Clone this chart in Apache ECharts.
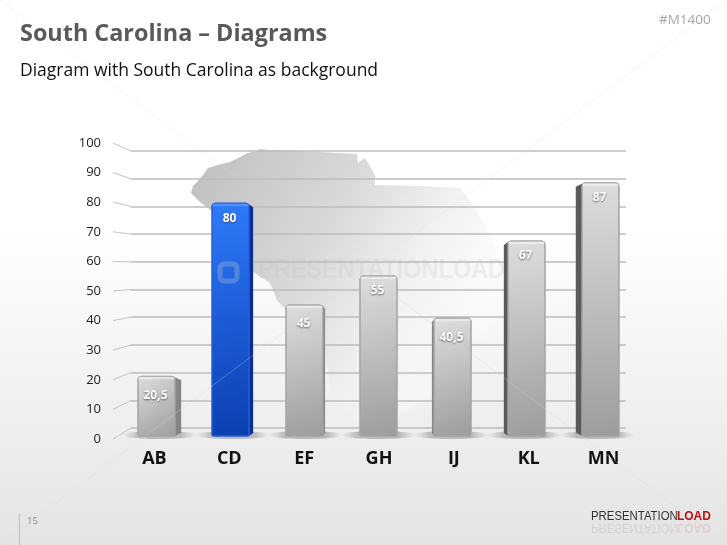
<!DOCTYPE html>
<html><head><meta charset="utf-8">
<style>html,body{margin:0;padding:0;background:#fff}#c{width:727px;height:545px}</style>
<script src="https://cdn.jsdelivr.net/npm/echarts@6/dist/echarts.min.js"></script>
</head><body><div id="c"></div>
<script>
const categories = ['AB','CD','EF','GH','IJ','KL','MN'];
const values = [20.5,80,45,55,40.5,67,87];
const highlighted = ['CD'];
const ticks = [0,10,20,30,40,50,60,70,80,90,100];
const titleText = 'South Carolina \u2013 Diagrams';
const subtitleText = 'Diagram with South Carolina as background';
const codeText = '#M1400';
const pageText = '15';
const mapOutline = [[191,193],[193,186],[197,182],[203,175],[208,168],[218,165],[230,162],[238,158],[248,153],[257,151],[260,149],[270,150],[280,150],[320,152],[357,154],[358,163],[365,158],[370,166],[375,175],[375,185],[420,186],[460,188],[472,203],[485,225],[498,250],[508,280],[508,300],[498,318],[480,340],[472,352],[462,372],[450,387],[432,398],[413,407],[390,420],[367,433],[363,433],[353,417],[338,402],[330,387],[328,368],[323,353],[300,325],[277,300],[270,283],[253,272],[235,250],[222,228],[213,212],[200,202]];

const chart = echarts.init(document.getElementById('c'), null, {renderer:'canvas'});
const FONT = '"Open Sans"';
const VANISH_X = 378;

function renderBar(params, api){
  const i = api.value(0), v = api.value(1);
  const top = api.coord([i, v]), base = api.coord([i, 0]);
  const w = api.size([1,0])[0] * 0.5;
  const cx = top[0], x0 = cx - w/2, x1 = cx + w/2, y0 = top[1], y1 = base[1];
  const blue = highlighted.indexOf(categories[i]) >= 0;
  const side = (VANISH_X - cx) * 0.028;
  const sx = side > 0 ? x1 : x0;
  const shadow = new echarts.graphic.LinearGradient(0,0,1,0,[
    {offset:0,color:'rgba(130,130,130,0)'},{offset:0.22,color:'rgba(110,110,110,0.4)'},{offset:0.78,color:'rgba(110,110,110,0.4)'},{offset:1,color:'rgba(130,130,130,0)'}]);
  const face = blue
    ? new echarts.graphic.LinearGradient(0,0,1,1,[{offset:0,color:'#2f7bfa'},{offset:0.5,color:'#1c5bd8'},{offset:1,color:'#0b3fae'}])
    : new echarts.graphic.LinearGradient(0,0,1,1,[{offset:0,color:'#dedede'},{offset:0.5,color:'#bdbdbd'},{offset:1,color:'#9c9c9c'}]);
  const sideColor = blue ? '#0a2f92' : (Math.abs(side) > 3.5 && side < 0 ? '#5a5a5a' : '#858585');
  const children = [
    {type:'ellipse', shape:{cx:(x0+x1)/2+side/2, cy:y1-1, rx:w/2+19, ry:4}, style:{fill:shadow}},
    {type:'polygon', shape:{points:[[sx,y0+1],[sx+side,y0+4],[sx+side,y1-3],[sx,y1]]}, style:{fill:sideColor}},
    {type:'rect', shape:{x:x0,y:y0,width:w,height:y1-y0,r:[3,3,1,1]}, style:{fill:face, stroke:blue?'#2560d8':'#a3a3a3', lineWidth:1}},
    {type:'rect', shape:{x:x0+0.5,y:y0+0.5,width:w-1,height:2.5,r:1}, style:{fill:blue?'rgba(120,170,255,0.5)':'rgba(255,255,255,0.45)'}},
    {type:'text', style:{text:String(v).replace('.',','), x:(x0+x1)/2-1, y:y0+(v<50?19:15), align:'center', verticalAlign:'middle',
      font:'bold 12px '+FONT, fill:'#fff', textShadowColor:'rgba(60,60,60,0.75)', textShadowBlur:2, textShadowOffsetX:0, textShadowOffsetY:1}}
  ];
  return {type:'group', children};
}

function renderWing(params, api){
  const t = api.value(0);
  const back = api.coord([0, t]);
  const front = chart.convertToPixel({yAxisIndex:1}, t);
  return {type:'line', shape:{x1:back[0], y1:back[1], x2:back[0]-18, y2:front}, style:{stroke:'#c4c4c4', lineWidth:1}};
}

const option = {
  animation:false,
  backgroundColor:new echarts.graphic.LinearGradient(0,0,0,1,[{offset:0,color:'#ffffff'},{offset:0.42,color:'#ffffff'},{offset:1,color:'#e4e4e4'}]),
  textStyle:{fontFamily:FONT},
  grid:[
    {left:131, width:495, top:151, height:277},
    {left:117, width:524, top:143, height:296},
    {left:119.5, width:518, top:145, height:291}
  ],
  xAxis:[
    {gridIndex:0, type:'value', min:0, max:1, show:false},
    {gridIndex:1, type:'category', data:categories, axisLine:{show:false}, axisTick:{show:false}, axisLabel:{margin:11, fontSize:18, fontWeight:'bold', color:'#111', fontFamily:FONT}},
    {gridIndex:2, type:'category', data:categories, show:false}
  ],
  yAxis:[
    {gridIndex:0, type:'value', min:0, max:100, interval:10, axisLine:{show:false}, axisTick:{show:false}, axisLabel:{show:false}, splitLine:{show:true, lineStyle:{color:'#bcbcbc', width:1.5}}},
    {gridIndex:1, type:'value', min:0, max:100, interval:10, axisLine:{show:false}, axisTick:{show:false}, splitLine:{show:false}, axisLabel:{margin:16, fontSize:13, color:'#222', fontFamily:FONT}},
    {gridIndex:2, type:'value', min:0, max:100, show:false, splitLine:{show:false}}
  ],
  series:[
    {type:'custom', xAxisIndex:0, yAxisIndex:0, coordinateSystem:'cartesian2d', renderItem:renderWing, data:ticks.map(t=>[t]), encode:{y:0}, silent:true, z:1},
    {type:'custom', xAxisIndex:2, yAxisIndex:2, coordinateSystem:'cartesian2d', renderItem:renderBar, data:values.map((v,i)=>[i,v]), encode:{x:0,y:1}, silent:true, z:3}
  ],
  graphic:[
    {type:'polygon', silent:true, z:-10, shape:{points:mapOutline},
      style:{fill:new echarts.graphic.LinearGradient(0,0.15,1,0.75,[{offset:0,color:'#c2c2c2'},{offset:0.38,color:'#d9d9d9'},{offset:0.62,color:'#efefef'},{offset:0.85,color:'rgba(250,250,250,0.5)'},{offset:1,color:'rgba(255,255,255,0)'}])}},
    {type:'line', silent:true, z:50, shape:{x1:0,y1:0,x2:727,y2:545}, style:{stroke:'rgba(215,215,215,0.3)', lineWidth:1}},
    {type:'line', silent:true, z:50, shape:{x1:0,y1:545,x2:727,y2:0}, style:{stroke:'rgba(215,215,215,0.3)', lineWidth:1}},
    {type:'text', silent:true, z:50, x:258, y:257, scaleX:0.87, style:{text:'PRESENTATIONLOAD', font:'bold 27px "Liberation Sans"', fill:'rgba(190,190,190,0.2)'}},
    {type:'rect', silent:true, z:50, shape:{x:220,y:264,width:17,height:17,r:4}, style:{fill:'none', stroke:'rgba(200,200,200,0.3)', lineWidth:5}},
    {type:'text', silent:true, z:60, x:20, y:23, style:{text:titleText, font:'bold 23.4px '+FONT, fill:'#595959'}},
    {type:'text', silent:true, z:60, x:20, y:62, style:{text:subtitleText, font:'17.5px '+FONT, fill:'#111'}},
    {type:'text', silent:true, z:60, x:659, y:13, style:{text:codeText, font:'13.5px '+FONT, fill:'#a6a6a6'}},
    {type:'line', silent:true, z:60, shape:{x1:19.5,y1:514,x2:19.5,y2:545}, style:{stroke:'#bdbdbd', lineWidth:1}},
    {type:'text', silent:true, z:60, x:27, y:516, style:{text:pageText, font:'9.5px '+FONT, fill:'#8a8a8a'}},
    {type:'text', silent:true, z:60, x:591, y:510, scaleX:0.875, style:{text:'PRESENTATION', font:'13px "Liberation Sans"', fill:'#333'}},
    {type:'text', silent:true, z:60, x:677, y:510, scaleX:0.92, style:{text:'LOAD', font:'bold 13px "Liberation Sans"', fill:'#c00d0d'}},
    {type:'text', silent:true, z:60, x:591, y:534, scaleX:0.875, scaleY:-1, style:{text:'PRESENTATION', font:'13px "Liberation Sans"', fill:'rgba(60,60,60,0.1)'}},
    {type:'text', silent:true, z:60, x:677, y:534, scaleX:0.92, scaleY:-1, style:{text:'LOAD', font:'bold 13px "Liberation Sans"', fill:'rgba(190,20,20,0.1)'}}
  ]
};
chart.setOption(option);
chart.setOption({series:option.series});
</script></body></html>
